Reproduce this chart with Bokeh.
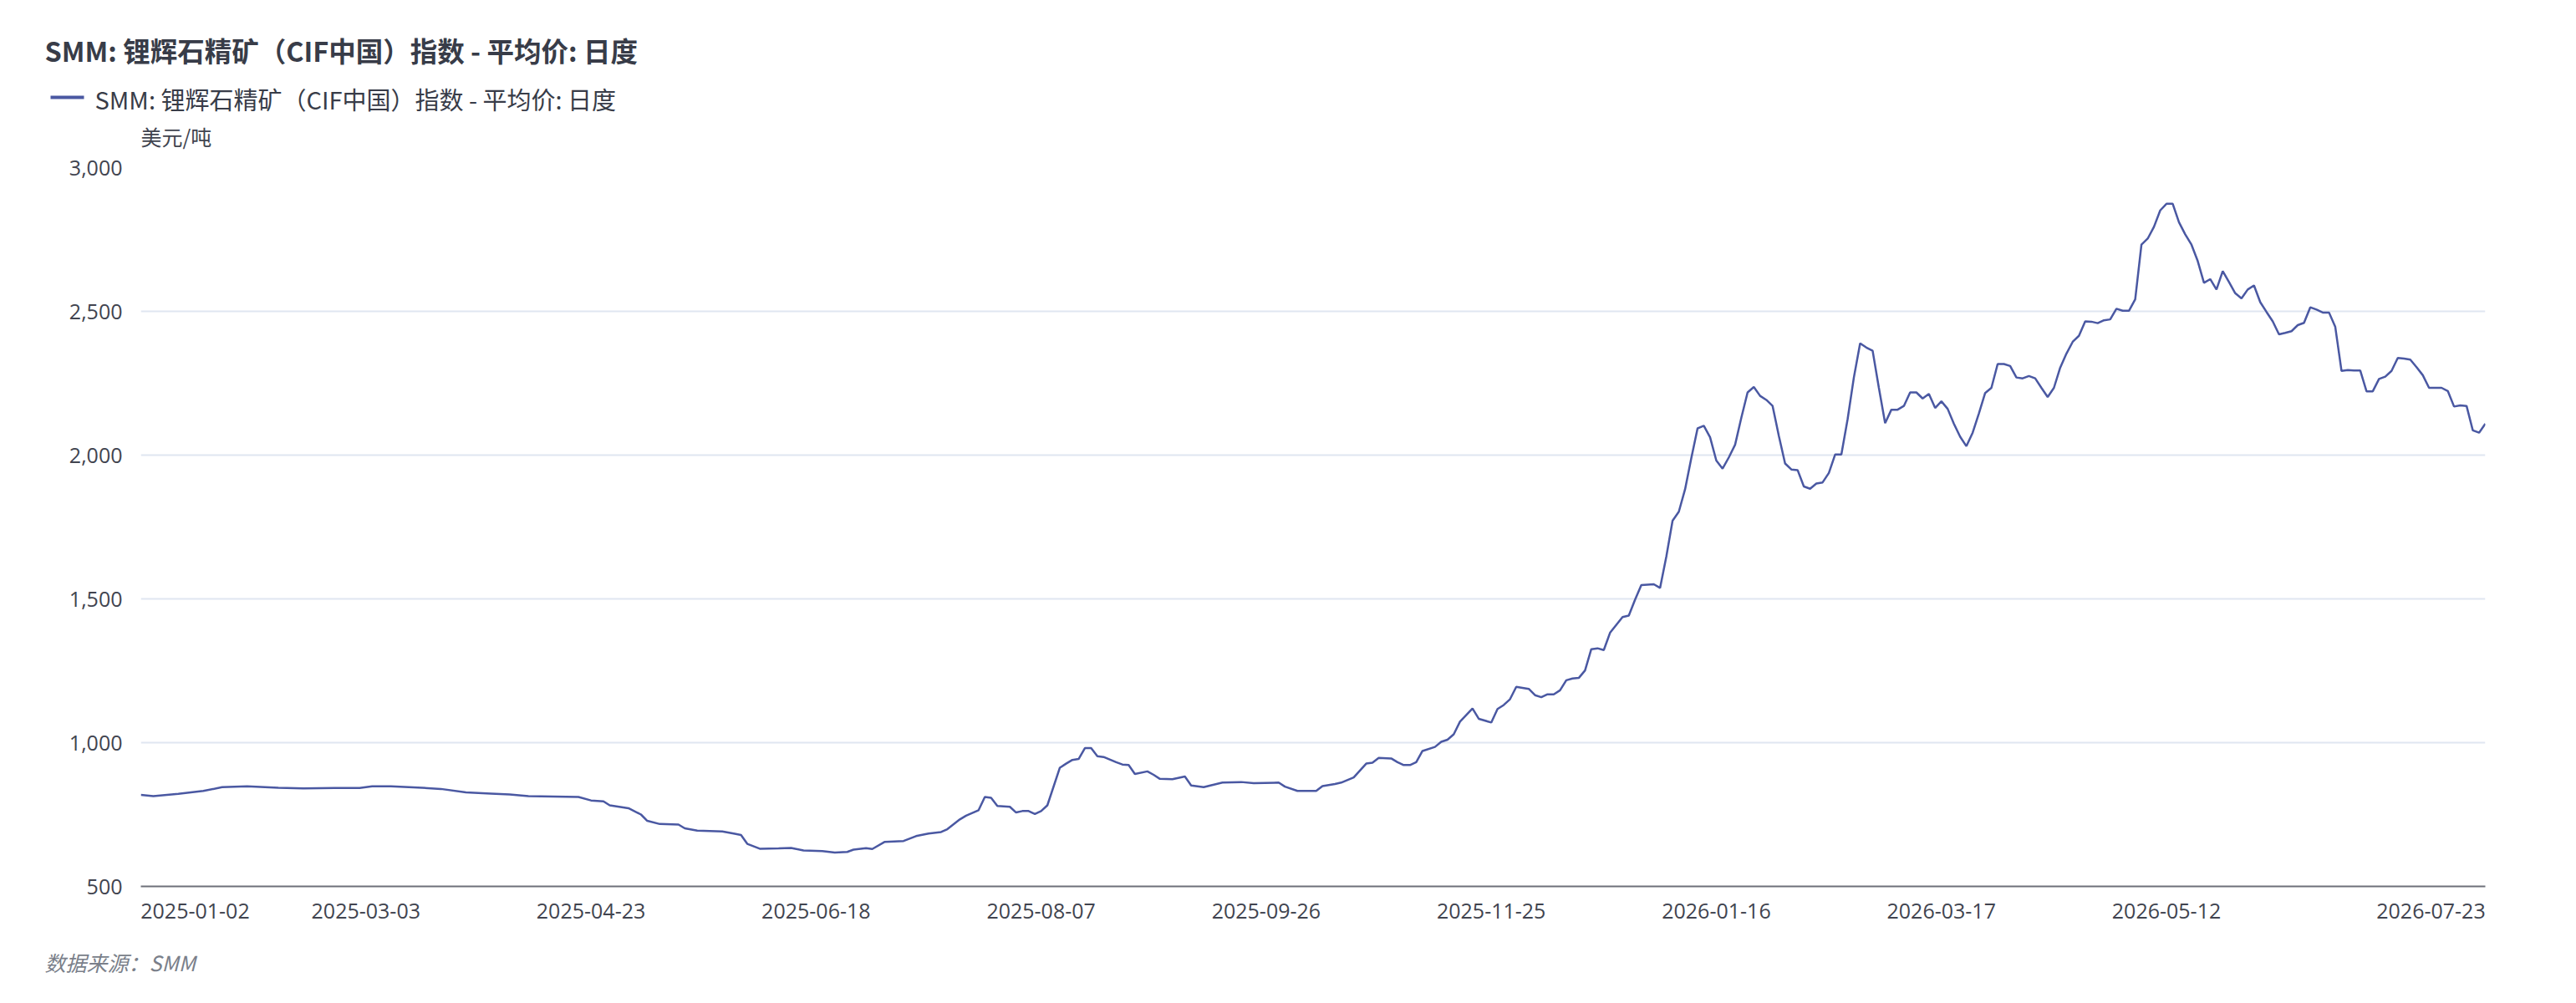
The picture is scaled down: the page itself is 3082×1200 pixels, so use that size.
from bokeh.plotting import figure
from bokeh.layouts import column
from bokeh.models import Range1d, FixedTicker, NumeralTickFormatter
from bokeh.core.properties import value
from bokeh.embed import file_html
from bokeh.resources import INLINE

# ---------------- data ----------------
TITLE = "SMM: 锂辉石精矿（CIF中国）指数 - 平均价: 日度"
SERIES_NAME = "SMM: 锂辉石精矿（CIF中国）指数 - 平均价: 日度"
UNIT = "美元/吨"
SOURCE = "数据来源：SMM"

N_CATEGORIES = 376  # trading days 2025-01-02 .. 2026-07-23

tick_index = [0, 36, 72, 108, 144, 180, 216, 252, 288, 324, 375]
tick_labels = ["2025-01-02", "2025-03-03", "2025-04-23", "2025-06-18",
               "2025-08-07", "2025-09-26", "2025-11-25", "2026-01-16",
               "2026-03-17", "2026-05-12", "2026-07-23"]

y_ticks = [500, 1000, 1500, 2000, 2500, 3000]

day_index = [
    0, 2, 6, 10, 13, 17, 22, 26, 31, 35, 37, 40, 45, 48, 52, 56, 59, 62, 70, 72,
    74, 75, 78, 80, 81, 83, 86, 87, 89, 93, 95, 96, 97, 99, 102, 104, 106, 109,
    111, 113, 114, 116, 117, 119, 122, 124, 126, 128, 129, 131, 132, 134, 135,
    136, 137, 139, 140, 141, 142, 143, 144, 145, 147, 148, 149, 150, 151, 152,
    153, 154, 156, 157, 158, 159, 161, 162, 163, 165, 167, 168, 170, 173, 176,
    178, 182, 183, 185, 188, 189, 191, 192, 194, 195, 196, 197, 198, 200, 201,
    202, 203, 204, 205, 207, 208, 209, 210, 211, 213, 214, 216, 217, 218, 219,
    220, 222, 223, 224, 225, 226, 227, 228, 229, 230, 231, 232, 233, 234, 235,
    237, 238, 239, 240, 242, 243, 244, 245, 246, 247, 248, 249, 250, 251, 252,
    253, 254, 255, 256, 257, 258, 259, 260, 261, 262, 263, 264, 265, 266, 267,
    268, 269, 270, 271, 272, 273, 274, 275, 276, 277, 278, 279, 280, 281, 282,
    283, 284, 285, 286, 287, 288, 289, 290, 291, 292, 293, 294, 295, 296, 297,
    298, 299, 300, 301, 302, 303, 304, 305, 306, 307, 308, 309, 310, 311, 312,
    313, 314, 315, 316, 317, 318, 319, 320, 321, 322, 323, 324, 325, 326, 327,
    328, 329, 330, 331, 332, 333, 334, 335, 336, 337, 338, 339, 340, 341, 342,
    343, 344, 345, 346, 347, 348, 349, 350, 351, 352, 353, 354, 355, 356, 357,
    358, 359, 360, 361, 362, 363, 364, 365, 366, 367, 368, 369, 370, 371, 372,
    373, 374, 375,
]

price = [
    818, 814, 822, 832, 845, 848, 843, 841, 842, 842, 848, 848, 843, 839, 827,
    823, 820, 814, 811, 799, 796, 782, 772, 750, 728, 717, 715, 702, 694, 691,
    683, 679, 648, 631, 632, 634, 625, 623, 618, 620, 628, 633, 630, 655, 658,
    675, 684, 689, 699, 733, 746, 765, 811, 808, 780, 777, 757, 762, 762, 752,
    762, 782, 913, 927, 940, 943, 981, 981, 953, 950, 932, 924, 922, 891, 900,
    888, 874, 873, 882, 851, 845, 861, 863, 859, 861, 847, 832, 832, 849, 856,
    861, 879, 903, 927, 930, 947, 945, 932, 922, 922, 932, 971, 985, 1003, 1010,
    1029, 1073, 1119, 1083, 1070, 1117, 1131, 1151, 1194, 1187, 1165, 1158,
    1168, 1168, 1182, 1217, 1223, 1225, 1251, 1325, 1328, 1322, 1382,
    1437, 1442, 1497, 1548, 1551, 1538, 1647, 1772, 1803, 1881, 1990, 2093,
    2102, 2062, 1981, 1953, 1992, 2036, 2130, 2218, 2237, 2206, 2192, 2171,
    2067, 1971, 1950, 1948, 1891, 1883, 1901, 1905, 1938, 2002, 2002, 2125,
    2270, 2389, 2374, 2363, 2234, 2111, 2158, 2158, 2171, 2218, 2218, 2197,
    2213, 2164, 2187, 2161, 2109, 2064, 2031, 2078, 2145, 2216, 2234, 2317,
    2317, 2310, 2270, 2267, 2275, 2267, 2234, 2202, 2234, 2304, 2353, 2394,
    2415, 2465, 2464, 2459, 2469, 2472, 2509, 2502, 2502, 2542, 2732, 2753,
    2794, 2851, 2874, 2874, 2810, 2768, 2732, 2675, 2599, 2612, 2576, 2640,
    2602, 2563, 2545, 2576, 2590, 2532, 2498, 2465, 2420, 2425, 2431, 2452,
    2460, 2514, 2506, 2496, 2496, 2446, 2293, 2296, 2294, 2294, 2222, 2222,
    2265, 2273, 2293, 2338, 2336, 2332, 2306, 2278, 2234, 2234, 2234, 2223,
    2169, 2173, 2171, 2086, 2078, 2109,
]

# ---------------- styling ----------------
CJK_FONT = "Noto Sans CJK SC"
NUM_FONT = "Open Sans"
LINE_COLOR = "#4a58a2"
TEXT_DARK = "#383c48"
LABEL_COLOR = "#41444f"
AXIS_COLOR = "#6E7079"
GRID_COLOR = "#E0E6F1"

W = 3066
HEAD_H, MAIN_H, FOOT_H = 180, 948, 64
ML, MR, MT, MB = 168, 93, 20, 68
frame_w = W - ML - MR
px_per_cat = frame_w / (N_CATEGORIES - 1)


def no_align(f):
    if "frame_align" in f.properties():
        f.frame_align = False
    return f


def blank(h):
    f = figure(width=W, height=h, output_backend="svg", toolbar_location=None,
               x_range=Range1d(0, W), y_range=Range1d(h, 0), tools="",
               x_axis_type=None, y_axis_type=None, min_border=0)
    f.outline_line_color = None
    f.xgrid.visible = False
    f.ygrid.visible = False
    f.background_fill_color = "white"
    f.border_fill_color = "white"
    return no_align(f)


# ---------------- header: title, legend, unit ----------------
head = blank(HEAD_H)
head.text(x=[53], y=[59], text=[TITLE], text_font=value(CJK_FONT),
          text_font_size="32.5px", text_font_style="bold", text_color=TEXT_DARK,
          text_baseline="middle", text_align="left")
head.line(x=[60, 100], y=[116, 116], line_color=LINE_COLOR, line_width=4)
head.text(x=[113], y=[117], text=[SERIES_NAME], text_font=value(CJK_FONT),
          text_font_size="29px", text_color=TEXT_DARK,
          text_baseline="middle", text_align="left")
head.text(x=[ML], y=[162], text=[UNIT], text_font=value(CJK_FONT),
          text_font_size="25px", text_color=LABEL_COLOR,
          text_baseline="middle", text_align="left")

# ---------------- main chart ----------------
p = figure(width=W, height=MAIN_H, output_backend="svg", toolbar_location=None,
           x_range=Range1d(0, N_CATEGORIES - 1), y_range=Range1d(500, 3000),
           min_border_left=ML, min_border_right=MR, min_border_top=MT,
           min_border_bottom=MB, tools="")
no_align(p)
p.outline_line_color = None
p.background_fill_color = "white"
p.border_fill_color = "white"

p.line(day_index, price, line_color=LINE_COLOR, line_width=2.5)

# x axis: category labels; first aligned left, last aligned right
half_label = 65.0 / px_per_cat
tick_pos = list(tick_index)
tick_pos[0] = tick_index[0] + half_label
tick_pos[-1] = tick_index[-1] - half_label
p.xaxis.ticker = FixedTicker(ticks=tick_pos)
p.xaxis.major_label_overrides = {t: lab for t, lab in zip(tick_pos, tick_labels)}
p.xaxis.axis_line_color = AXIS_COLOR
p.xaxis.axis_line_width = 2
p.xaxis.major_tick_line_color = None
p.xaxis.minor_tick_line_color = None
p.xaxis.major_label_standoff = 14
p.xaxis.major_label_text_font = NUM_FONT
p.xaxis.major_label_text_font_size = "25px"
p.xaxis.major_label_text_color = LABEL_COLOR

p.yaxis.ticker = FixedTicker(ticks=y_ticks)
p.yaxis.formatter = NumeralTickFormatter(format="0,0")
p.yaxis.axis_line_color = None
p.yaxis.major_tick_line_color = None
p.yaxis.minor_tick_line_color = None
p.yaxis.major_label_standoff = 16
p.yaxis.major_label_text_font = NUM_FONT
p.yaxis.major_label_text_font_size = "25px"
p.yaxis.major_label_text_color = LABEL_COLOR

p.xgrid.visible = False
p.ygrid.ticker = FixedTicker(ticks=y_ticks)
p.ygrid.grid_line_color = GRID_COLOR
p.ygrid.grid_line_width = 2

# ---------------- footer: source ----------------
foot = blank(FOOT_H)
foot.text(x=[53], y=[22], text=[SOURCE], text_font=value(CJK_FONT),
          text_font_size="25px", text_font_style="italic", text_color="#7a7f8a",
          text_baseline="middle", text_align="left")

layout = column(head, p, foot, spacing=0)
open("out.html", "w").write(file_html(layout, INLINE))
